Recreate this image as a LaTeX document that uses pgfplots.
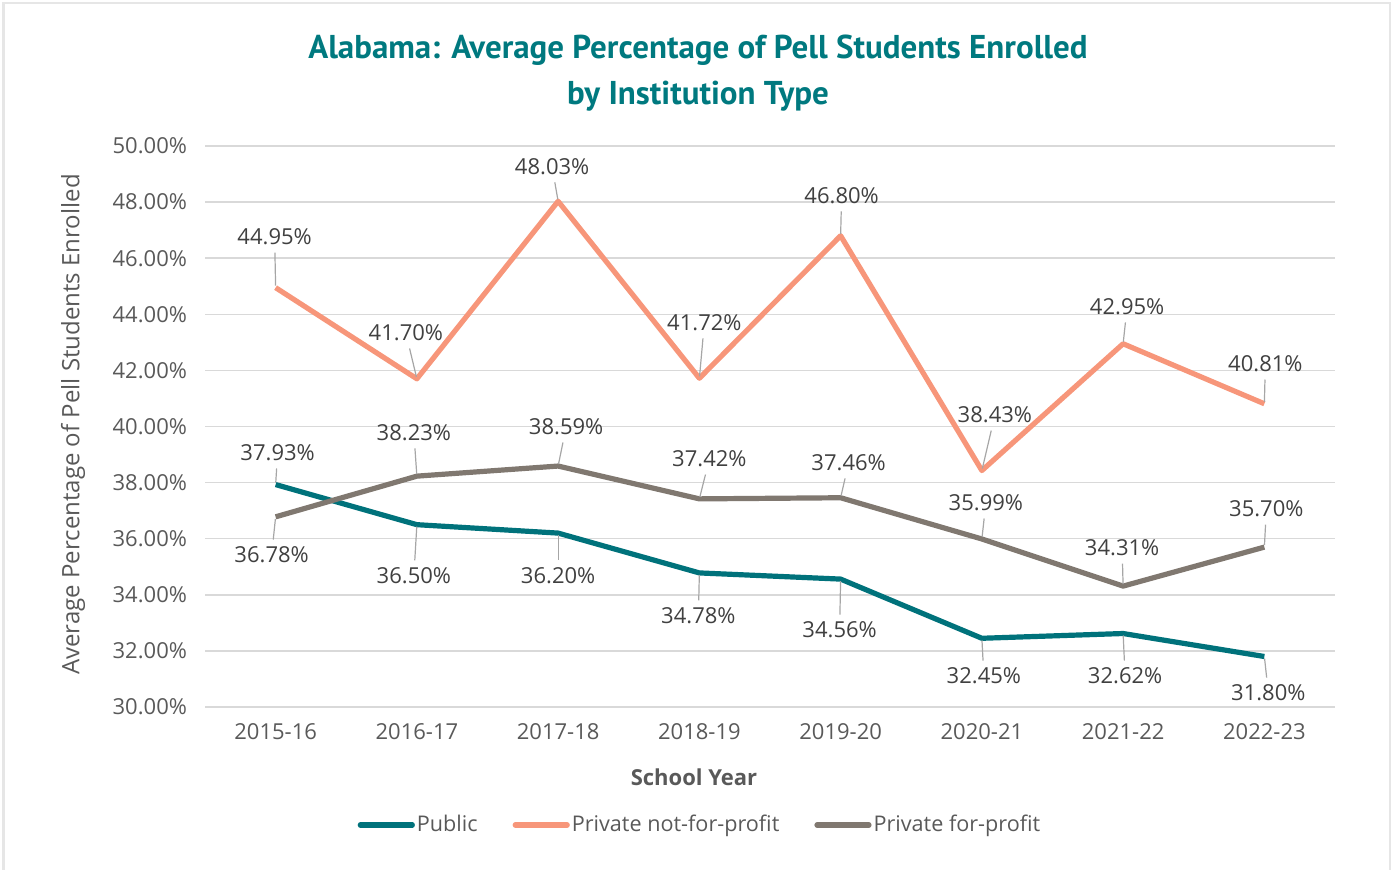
\documentclass[border=0pt]{standalone}
\usepackage{fontspec}
\setmainfont{Open Sans}
\newfontfamily\titlefont{PT Sans}
\usepackage{pgfplots}
\pgfplotsset{compat=1.18}
\definecolor{pub}{RGB}{0,114,123}
\definecolor{pnp}{RGB}{247,150,122}
\definecolor{pfp}{RGB}{128,120,112}
\definecolor{titc}{RGB}{0,121,127}
\definecolor{labc}{RGB}{89,89,89}
\definecolor{datc}{RGB}{64,64,64}
\definecolor{gridc}{RGB}{217,217,217}
\definecolor{leadc}{RGB}{166,166,166}
\definecolor{bordc}{RGB}{230,230,230}
\newcommand{\lab}[5]{%
  \node[font=\fontsize{11}{13}\selectfont, text=datc, inner sep=2pt] (L) at (axis cs:#1,#2) [xshift=#3pt, yshift=#4pt] {#5};
  \draw[leadc, line width=0.6pt, shorten <=1pt, shorten >=1.5pt] (axis cs:#1,#2) -- (L);%
}
\begin{document}
\begin{tikzpicture}[x=1pt,y=1pt]
\path[use as bounding box] (0,0) rectangle (696,434.5);
\draw[bordc, line width=1.2pt] (1.8,-5) -- (1.8,432.9) -- (694.9,432.9) -- (694.9,-5);
\node[font=\titlefont\bfseries\fontsize{16.5}{19}\selectfont, text=titc] at (349,409.5) {Alabama: Average Percentage of Pell Students Enrolled};
\node[font=\titlefont\bfseries\fontsize{16.5}{19}\selectfont, text=titc] at (349,386.5) {by Institution Type};
\begin{axis}[
  at={(102.5pt,81pt)}, anchor=south west,
  scale only axis, width=565pt, height=280.5pt,
  xmin=-0.5, xmax=7.5, ymin=30, ymax=50,
  xtick={0,...,7},
  xticklabels={2015-16,2016-17,2017-18,2018-19,2019-20,2020-21,2021-22,2022-23},
  ytick={30,32,...,50},
  yticklabel={\pgfmathprintnumber[fixed,fixed zerofill,precision=2]{\tick}\%},
  /pgf/number format/assume math mode=true,
  ymajorgrids, grid style={gridc, line width=0.75pt},
  axis line style={draw=none},
  major tick length=0pt,
  tick label style={font=\fontsize{11}{13}\selectfont, text=labc},
  yticklabel style={xshift=-5.5pt},
  xticklabel style={yshift=-4.5pt},
  xlabel={\bfseries School Year},
  xlabel style={at={(axis description cs:0.5,0)}, anchor=center, yshift=-35pt, xshift=-38pt, font=\fontsize{11}{13}\selectfont, text=labc},
  ylabel={Average Percentage of Pell Students Enrolled},
  ylabel style={at={(axis description cs:0,0.5)}, anchor=center, yshift=66pt, xshift=1pt, font=\fontsize{12}{14}\selectfont, text=labc},
  clip=false,
  legend columns=3,
  legend style={at={(0.5,0)}, anchor=center, xshift=-35pt, yshift=-59pt, draw=none, fill=none, font=\fontsize{10.8}{13}\selectfont, text=labc,
    /tikz/every even column/.append style={column sep=16.5pt}, inner sep=0pt, nodes={inner sep=1pt}},
  legend image code/.code={\draw[#1, line width=2.6pt, line cap=round] (0pt,0pt) -- (26pt,0pt);},
]
\addplot[pub, line width=2.6pt, line join=round] coordinates {(0,37.93) (1,36.50) (2,36.20) (3,34.78) (4,34.56) (5,32.45) (6,32.62) (7,31.80)};
\addlegendentry{Public}
\addplot[pnp, line width=2.6pt, line join=round] coordinates {(0,44.95) (1,41.70) (2,48.03) (3,41.72) (4,46.80) (5,38.43) (6,42.95) (7,40.81)};
\addlegendentry{Private not-for-profit}
\addplot[pfp, line width=2.6pt, line join=round] coordinates {(0,36.78) (1,38.23) (2,38.59) (3,37.42) (4,37.46) (5,35.99) (6,34.31) (7,35.70)};
\addlegendentry{Private for-profit}
% Private not-for-profit labels
\lab{0}{44.95}{-0.5}{25.3}{44.95\%}
\lab{1}{41.70}{-5.5}{22.9}{41.70\%}
\lab{2}{48.03}{-3}{17.2}{48.03\%}
\lab{3}{41.72}{2.5}{27.7}{41.72\%}
\lab{4}{46.80}{0.5}{20}{46.80\%}
\lab{5}{38.43}{6.5}{27.7}{38.43\%}
\lab{6}{42.95}{2}{18.4}{42.95\%}
\lab{7}{40.81}{0.5}{19.9}{40.81\%}
% Public labels
\lab{0}{37.93}{1}{15.8}{37.93\%}
\lab{1}{36.50}{-1.5}{-25.6}{36.50\%}
\lab{2}{36.20}{0}{-21.4}{36.20\%}
\lab{3}{34.78}{-0.5}{-21.5}{34.78\%}
\lab{4}{34.56}{-0.5}{-25.5}{34.56\%}
\lab{5}{32.45}{1}{-18.9}{32.45\%}
\lab{6}{32.62}{1}{-21.3}{32.62\%}
\lab{7}{31.80}{2}{-18.3}{31.80\%}
% Private for-profit labels
\lab{0}{36.78}{-2}{-19.1}{36.78\%}
\lab{1}{38.23}{-1.5}{21.6}{38.23\%}
\lab{2}{38.59}{4}{19.5}{38.59\%}
\lab{3}{37.42}{5}{19.9}{37.42\%}
\lab{4}{37.46}{4}{17.4}{37.46\%}
\lab{5}{35.99}{2}{18}{35.99\%}
\lab{6}{34.31}{-0.5}{19}{34.31\%}
\lab{7}{35.70}{1}{19}{35.70\%}
\end{axis}
\end{tikzpicture}
\end{document}
